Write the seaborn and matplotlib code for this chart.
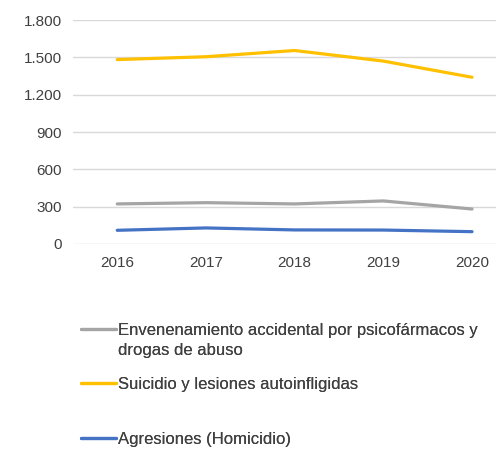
import numpy as np
import pandas as pd
import matplotlib.pyplot as plt
import seaborn as sns

# Data
years = [2016, 2017, 2018, 2019, 2020]
envenenamiento = [322, 332, 322, 346, 281]
suicidio = [1482, 1505, 1555, 1470, 1340]
agresiones = [110, 129, 113, 112, 99]
series_names = ["Envenenamiento accidental por psicofármacos y\ndrogas de abuso",
                "Suicidio y lesiones autoinfligidas",
                "Agresiones (Homicidio)"]
series_colors = ["#A5A5A5", "#FFC000", "#4472C4"]
y_ticks = [0, 300, 600, 900, 1200, 1500, 1800]
y_tick_labels = ["0", "300", "600", "900", "1.200", "1.500", "1.800"]

df = pd.DataFrame({
    "year": years * 3,
    "value": envenenamiento + suicidio + agresiones,
    "serie": [series_names[0]] * 5 + [series_names[1]] * 5 + [series_names[2]] * 5,
})

sns.set_style("white")
plt.rcParams['font.family'] = ['Liberation Sans', 'DejaVu Sans']

fig = plt.figure(figsize=(4.96, 4.53), dpi=100)
ax = fig.add_axes([0.147, 0.4614, 0.853, 0.4944])

sns.lineplot(data=df, x="year", y="value", hue="serie", hue_order=series_names,
             palette=series_colors, linewidth=2.3, ax=ax, legend=True)

ax.set_xlim(2015.5, 2020.27)
ax.set_ylim(0, 1800)
ax.set_xticks(years)
ax.set_xticklabels([str(y) for y in years])
ax.set_yticks(y_ticks)
ax.set_yticklabels(y_tick_labels)
ax.grid(axis="y", color="#D9D9D9", linewidth=1)
ax.set_axisbelow(True)
for s in ax.spines.values():
    s.set_visible(False)
ax.tick_params(axis="both", length=0, labelsize=11, colors="#404040", pad=8)
ax.tick_params(axis="x", pad=9)
ax.set_xlabel("")
ax.set_ylabel("")

handles, labels = ax.get_legend_handles_labels()
ax.get_legend().remove()

# Three separate legend entries, placed like the reference
anchors = [(0.163, 1 - 323 / 453), (0.163, 1 - 377 / 453), (0.163, 1 - 432 / 453)]
for i, (h, lab, anc) in enumerate(zip(handles, labels, anchors)):
    leg = fig.legend([h], [lab], loc="upper left", bbox_to_anchor=anc,
                     frameon=False, fontsize=12, handlelength=2.1,
                     handletextpad=0.12, borderpad=0, borderaxespad=0)
    for t in leg.get_texts():
        t.set_color("#404040")
        if i == 0:
            t.set_linespacing(1.45)
    for l in leg.get_lines():
        l.set_linewidth(2.3)
    if i == 0:
        # handle next to the first line of the two-line label
        for col in leg._legend_handle_box.get_children():
            for row in col.get_children():
                row.align = "top"
    fig.add_artist(leg)

fig.savefig("out.png", dpi=100)
